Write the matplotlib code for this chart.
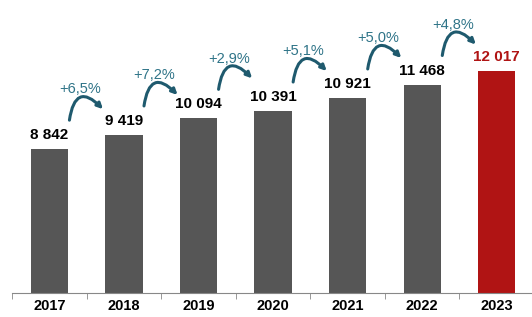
import matplotlib
matplotlib.use("Agg")
import matplotlib.pyplot as plt
from matplotlib.transforms import offset_copy

# Data
years = ["2017", "2018", "2019", "2020", "2021", "2022", "2023"]
values = [8842, 9419, 10094, 10391, 10921, 11468, 12017]
value_labels = ["8 842", "9 419", "10 094", "10 391", "10 921", "11 468", "12 017"]
growth_labels = ["+6,5%", "+7,2%", "+2,9%", "+5,1%", "+5,0%", "+4,8%"]

gray = "#565656"
red = "#b01414"
teal = "#2f7488"
arc_color = "#1f5a6e"

plt.rcParams["font.family"] = ["Liberation Sans", "DejaVu Sans"]

fig = plt.figure(figsize=(5.32, 3.17), dpi=100)
ax = fig.add_axes([12 / 532, 24 / 317, 522 / 532, 293 / 317])

x = list(range(len(years)))
colors = [gray] * (len(years) - 1) + [red]
ax.bar(x, values, width=0.5, color=colors)

ax.set_xlim(-0.5, 6.5)
ax.set_ylim(3000, 14900)

# value labels above bars
for i, v in enumerate(values):
    ax.annotate(value_labels[i], xy=(i, v), xytext=(0, 5), textcoords="offset points",
                ha="center", va="bottom", fontsize=11, fontweight="bold",
                color=red if i == len(values) - 1 else "black")

# growth arcs and percentages
for i, lab in enumerate(growth_labels):
    v = values[i]
    start = offset_copy(ax.transData, fig=fig, x=0, y=29, units="dots")
    end = offset_copy(ax.transData, fig=fig, x=0, y=40, units="dots")
    ax.annotate("", xy=(i + 0.72, v), xycoords=end, xytext=(i + 0.27, v), textcoords=start,
                arrowprops=dict(arrowstyle="-|>", connectionstyle="arc3,rad=-1.0",
                                color=arc_color, lw=2.2, mutation_scale=8,
                                shrinkA=0, shrinkB=0))
    ax.annotate(lab, xy=(i + 0.41, v), xytext=(0, 43), textcoords="offset points",
                ha="center", va="center", fontsize=10.5, color=teal)

# axes styling
for s in ["top", "right", "left"]:
    ax.spines[s].set_visible(False)
ax.spines["bottom"].set_color("#888888")
ax.set_yticks([])
ax.set_xticks(x)
ax.set_xticklabels(years, fontsize=10.5, fontweight="bold")
ax.tick_params(axis="x", which="major", length=0, pad=4)
ax.set_xticks([i - 0.5 for i in x], minor=True)
ax.tick_params(axis="x", which="minor", length=4, color="#888888")

fig.savefig("out.png", dpi=100)
